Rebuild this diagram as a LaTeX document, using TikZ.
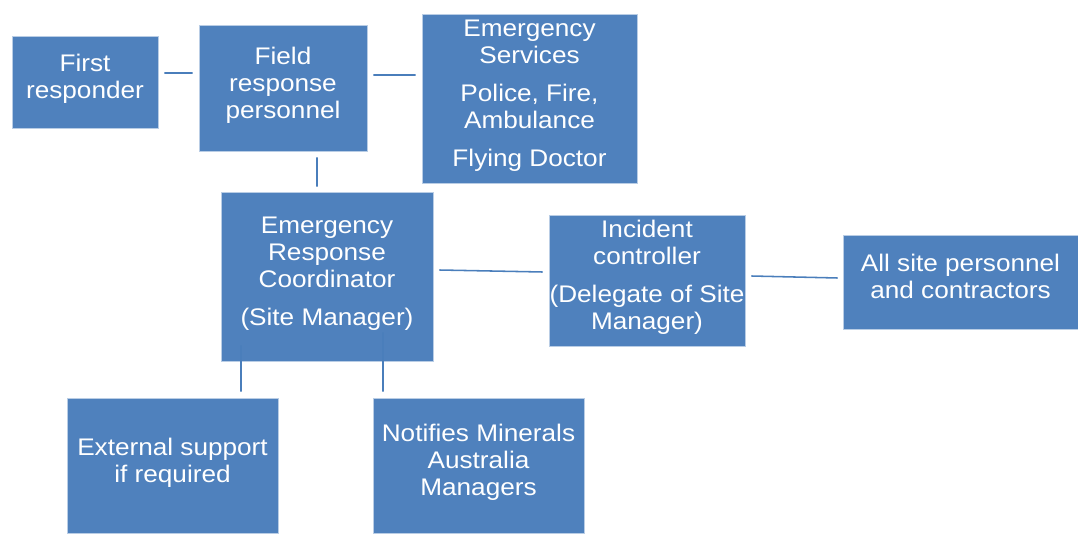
\documentclass[tikz,border=0pt]{standalone}
\usepackage{fontspec}
\setmainfont[FakeStretch=1.09]{Liberation Sans}
\usepackage{xcolor}
\usetikzlibrary{positioning}

\definecolor{boxblue}{HTML}{4F81BD}
\definecolor{edgeblue}{HTML}{B9CDE5}
\definecolor{lineblue}{HTML}{4A7EBB}

\begin{document}
\begin{tikzpicture}[
    box/.style={rectangle, draw=edgeblue, line width=0.4pt, fill=boxblue, text=white, align=center, inner sep=0pt,
                text depth=8pt, font=\fontsize{17.07pt}{19.2pt}\selectfont},
    link/.style={draw=lineblue, line width=1.1pt}
]
    \useasboundingbox (0,0) rectangle (26.95,13.325);

    % Top row
    \node[box, minimum width=3.65cm, minimum height=2.3cm] (first) at (2.125,11.275) {First\\responder};
    \node[box, minimum width=4.2cm, minimum height=3.15cm] (field) at (7.075,11.125) {Field\\response\\personnel};
    \node[box, minimum width=5.375cm, minimum height=4.225cm] (emserv) at (13.2375,10.8625)
        {Emergency\\Services\\[7.8pt]Police, Fire,\\Ambulance\\[7.8pt]Flying Doctor};

    % Middle row
    \node[box, minimum width=5.3cm, minimum height=4.225cm] (erc) at (8.175,6.4125)
        {Emergency\\Response\\Coordinator\\[7.8pt](Site Manager)};
    \node[box, minimum width=4.9cm, minimum height=3.275cm] (ic) at (16.175,6.3125)
        {Incident\\controller\\[7.8pt](Delegate of Site\\Manager)};
    \node[box, minimum width=5.875cm, minimum height=2.35cm] (allsite) at (24.0125,6.275)
        {All site personnel\\and contractors};

    % Bottom row
    \node[box, minimum width=5.275cm, minimum height=3.375cm] (ext) at (4.3125,1.6875)
        {External support\\if required};
    \node[box, minimum width=5.275cm, minimum height=3.375cm] (notif) at (11.9625,1.6875)
        {Notifies Minerals\\Australia\\Managers};

    % Connections
    \draw[link] ([shift={(0.15,0.225)}]first.east) -- ([shift={(-0.15,0.375)}]field.west);
    \draw[link] ([shift={(0.15,0.325)}]field.east) -- ([shift={(-0.15,0.5875)}]emserv.west);
    \draw[link] ([shift={(0.85,-0.15)}]field.south) -- ([shift={(-0.25,0.125)}]erc.north);

    \draw[link] ([shift={(0.15,0.1625)}]erc.east) -- ([shift={(-0.15,0.2125)}]ic.west);
    \draw[link] ([shift={(0.15,0.1125)}]ic.east) -- ([shift={(-0.125,0.1)}]allsite.west);

    \draw[link] ([shift={(-2.15,0.4)}]erc.south) -- ([shift={(1.7125,0.15)}]ext.north);
    \draw[link] ([shift={(1.4,0.725)}]erc.south) -- ([shift={(-2.3875,0.15)}]notif.north);
\end{tikzpicture}
\end{document}
